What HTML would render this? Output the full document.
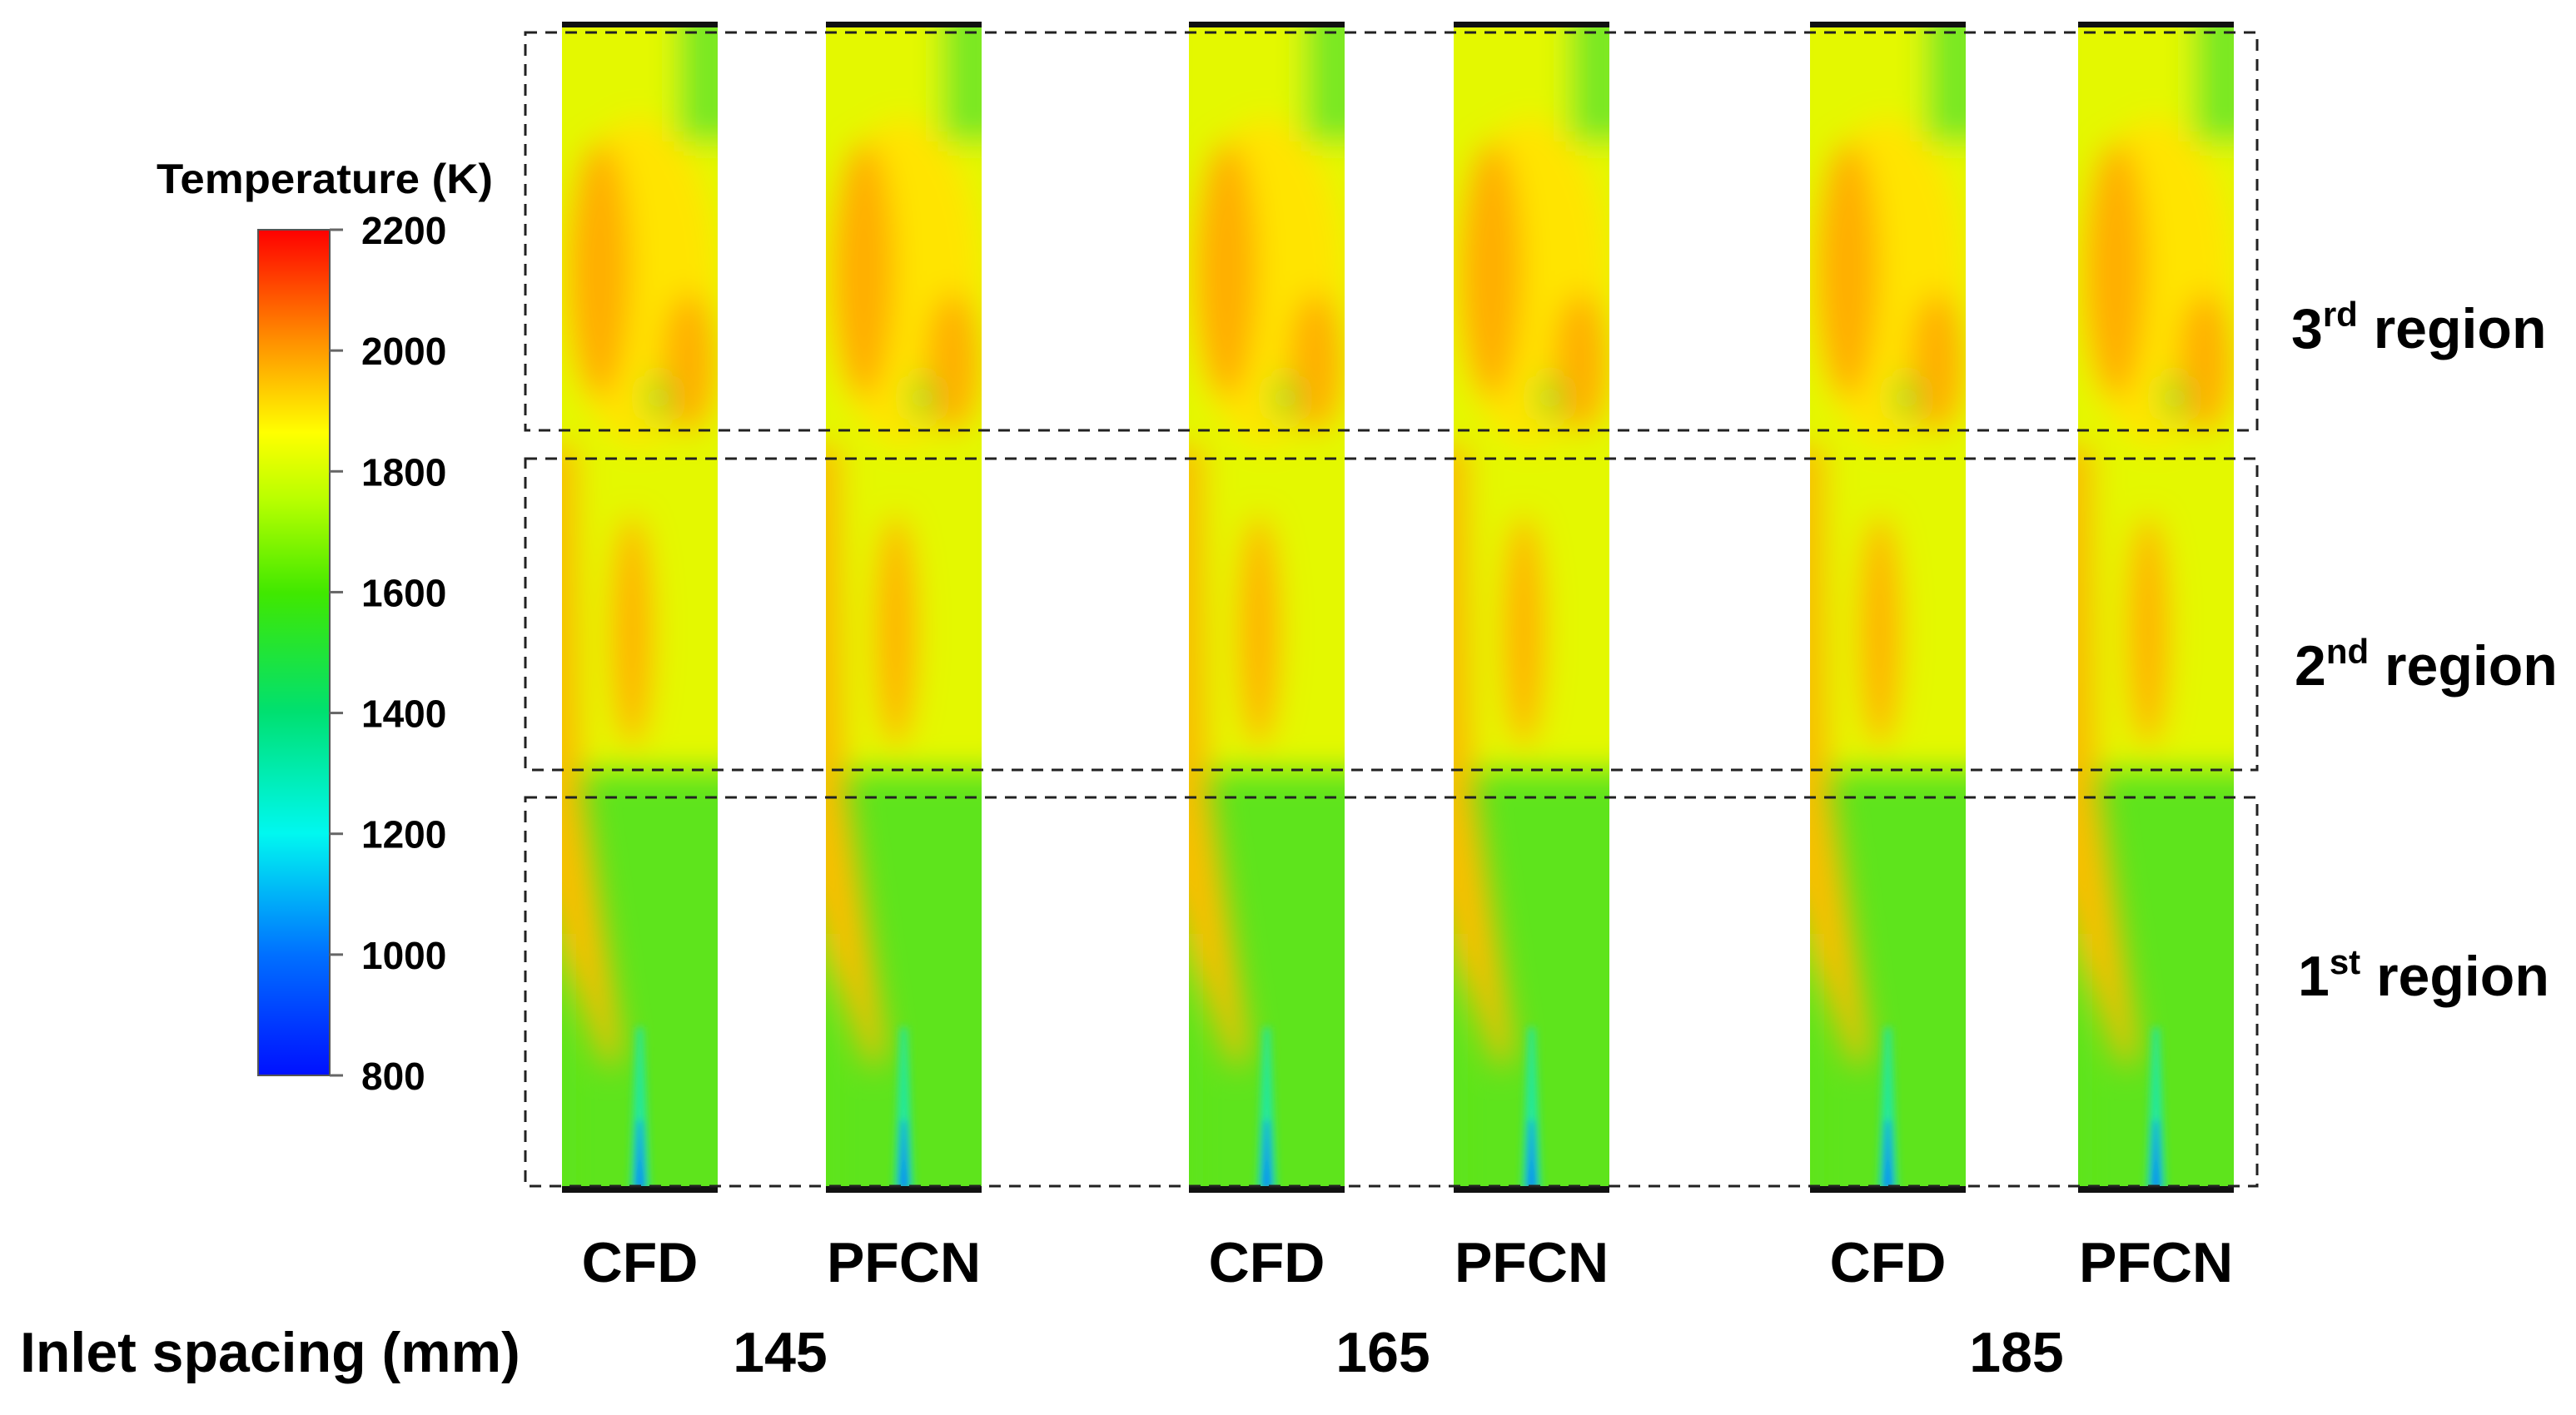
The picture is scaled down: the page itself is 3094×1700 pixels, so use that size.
<!DOCTYPE html>
<html><head><meta charset="utf-8">
<style>
html,body{margin:0;padding:0;background:#fff;}
svg{display:block;}
text{font-family:"Liberation Sans",Arial,sans-serif;font-weight:bold;fill:#000;}
</style></head>
<body>
<svg id="fig" width="3094" height="1700" viewBox="0 0 3094 1700" xmlns="http://www.w3.org/2000/svg">
<defs>
  <linearGradient id="cbar" x1="0" y1="1" x2="0" y2="0">
    <stop offset="0" stop-color="#0010ff"/>
    <stop offset="0.143" stop-color="#0070ff"/>
    <stop offset="0.286" stop-color="#00f8f0"/>
    <stop offset="0.43" stop-color="#00e070"/>
    <stop offset="0.57" stop-color="#40e800"/>
    <stop offset="0.68" stop-color="#b8ff00"/>
    <stop offset="0.76" stop-color="#ffff00"/>
    <stop offset="0.86" stop-color="#ff9900"/>
    <stop offset="1" stop-color="#ff0000"/>
  </linearGradient>
  <filter id="blur" filterUnits="userSpaceOnUse" x="0" y="0" width="3094" height="1700"><feGaussianBlur stdDeviation="18"/></filter>
  <filter id="blur2" filterUnits="userSpaceOnUse" x="0" y="0" width="3094" height="1700"><feGaussianBlur stdDeviation="5"/></filter>
</defs>
<g id="colorbar"></g>
<g id="panels"></g>
<g id="boxes"></g>
<g id="labels"></g>
</svg>
<script>
const cbTicks = [800,1000,1200,1400,1600,1800,2000,2200];
const cbMin = 800, cbMax = 2200;
const panelNames = ["CFD","PFCN","CFD","PFCN","CFD","PFCN"];
const panelLeft = [675,992,1428,1746,2174,2496];
const spacingValues = ["145","165","185"];
const spacingX = [937,1661,2422];
const regionNames = [["3","rd"],["2","nd"],["1","st"]];

const NS="http://www.w3.org/2000/svg";
function mk(tag,attrs,parent){const e=document.createElementNS(NS,tag);for(const k in attrs)e.setAttribute(k,attrs[k]);if(parent)parent.appendChild(e);return e;}

// colorbar
const cb=document.getElementById('colorbar');
const cbX=310,cbW=86,cbTop=276,cbBot=1292;
const cy=v=>cbBot-(v-cbMin)/(cbMax-cbMin)*(cbBot-cbTop);
const bar=mk('rect',{x:cbX,y:cbTop,width:cbW,height:cbBot-cbTop,fill:'url(#cbar)',stroke:'#555','stroke-width':2},cb);


const title=mk('text',{x:188,y:232,'font-size':50,textLength:404,lengthAdjust:'spacingAndGlyphs'},cb);title.textContent='Temperature (K)';


cbTicks.forEach(v=>{
  const y=cy(v);
  mk('line',{x1:cbX+cbW,x2:cbX+cbW+16,y1:y,y2:y,stroke:'#666','stroke-width':3},cb);
  const t=mk('text',{x:434,y:y+17,'font-size':46},cb);t.textContent=v;
  
  
});

// panels
const pg=document.getElementById('panels');
const PW=187,PT=30,PB=1430,PH=PB-PT;
panelLeft.forEach((x0,i)=>{
  const g=mk('g',{},pg);
  
  
  const cid='clip'+i;
  const cp=mk('clipPath',{id:cid},g);mk('rect',{x:x0,y:PT,width:PW,height:PH},cp);
  const c=mk('g',{'clip-path':'url(#'+cid+')'},g);
  const X=f=>x0+f*PW, Y=f=>PT+f*PH;
  mk('rect',{x:x0,y:PT,width:PW,height:PH,fill:'#5ee41c'},c);
  const b=mk('g',{filter:'url(#blur)'},c);
  // upper/middle yellow region
  mk('rect',{x:X(-0.2),y:Y(-0.05),width:PW*1.4,height:PH*0.69,fill:'#e4f800'},b);
  mk('rect',{x:X(0.75),y:Y(-0.05),width:PW*0.4,height:PH*0.15,fill:'#78e820'},b);
  mk('ellipse',{cx:X(0.5),cy:Y(0.22),rx:PW*0.5,ry:PH*0.14,fill:'#ffe400'},b);
  mk('ellipse',{cx:X(0.24),cy:Y(0.21),rx:PW*0.2,ry:PH*0.11,fill:'#ffae00'},b);
  mk('ellipse',{cx:X(0.82),cy:Y(0.29),rx:PW*0.18,ry:PH*0.06,fill:'#ffb000'},b);
  mk('ellipse',{cx:X(0.62),cy:Y(0.32),rx:PW*0.07,ry:PH*0.02,fill:'#90e020'},b);
  mk('ellipse',{cx:X(0.45),cy:Y(0.52),rx:PW*0.14,ry:PH*0.1,fill:'#ffb400'},b);
  // left plume
  mk('polygon',{points:`${X(-0.2)},${Y(0.36)} ${X(0.1)},${Y(0.36)} ${X(0.14)},${Y(0.66)} ${X(0.38)},${Y(0.88)} ${X(0.3)},${Y(0.9)} ${X(-0.2)},${Y(0.72)}`,fill:'#f8c000'},b);
  mk('rect',{x:X(-0.3),y:Y(0.78),width:PW*0.3,height:PH*0.3,fill:'#5ee41c'},b);
  // jet
  const jb=mk('g',{filter:'url(#blur2)'},c);
  mk('polygon',{points:`${X(0.48)},${Y(0.86)} ${X(0.52)},${Y(0.86)} ${X(0.56)},${Y(1)} ${X(0.44)},${Y(1)}`,fill:'#20e8a0'},jb);
  mk('polygon',{points:`${X(0.49)},${Y(0.94)} ${X(0.51)},${Y(0.94)} ${X(0.53)},${Y(1)} ${X(0.47)},${Y(1)}`,fill:'#0070ff'},jb);
  // black caps
  mk('rect',{x:x0,y:PT-4,width:PW,height:7,fill:'#111'},g);
  mk('rect',{x:x0,y:PB-5,width:PW,height:8,fill:'#111'},g);
  const lab=mk('text',{x:x0+PW/2,y:1540,'font-size':68,'text-anchor':'middle'},g);lab.textContent=panelNames[i];
  
  
});

// region boxes
const bx=document.getElementById('boxes');
[[39,517],[551,925],[958,1425]].forEach((r,i)=>{
  const rc=mk('rect',{x:631,y:r[0],width:2080,height:r[1]-r[0],fill:'none',stroke:'#222','stroke-width':3,'stroke-dasharray':'14 10'},bx);
  
  
});
const rb=[418,823,1196], rx=[2752,2756,2760];
const lg=document.getElementById('labels');
regionNames.forEach((r,i)=>{
  const t=mk('text',{x:rx[i],y:rb[i],'font-size':68},lg);
  
  
  const a=mk('tspan',{},t);a.textContent=r[0];
  const s=mk('tspan',{'font-size':42,dy:-26},t);s.textContent=r[1];
  const e=mk('tspan',{dy:26},t);e.textContent=' region';
});
const il=mk('text',{x:24,y:1648,'font-size':68},lg);il.textContent='Inlet spacing (mm)';


spacingValues.forEach((v,i)=>{
  const t=mk('text',{x:spacingX[i],y:1648,'font-size':68,'text-anchor':'middle'},lg);t.textContent=v;
  
  
});
</script>
</body></html>
